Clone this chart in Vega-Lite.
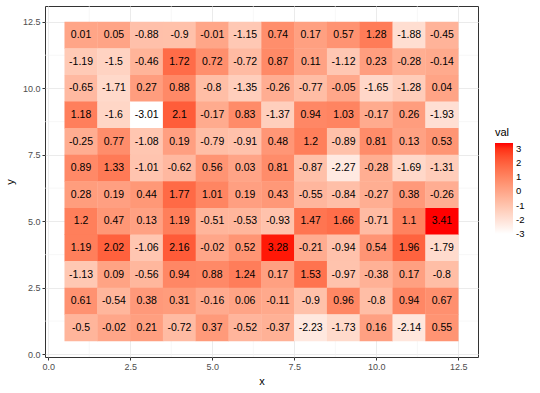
{
  "$schema": "https://vega.github.io/schema/vega-lite/v6.json",
  "width": 433,
  "height": 351,
  "autosize": "none",
  "padding": {"left": 45, "top": 6, "right": 62, "bottom": 36},
  "background": "white",
  "config": {
    "font": "Liberation Sans",
    "view": {"stroke": "#333333", "strokeWidth": 1},
    "axis": {
      "domain": false,
      "tickColor": "#333333",
      "tickSize": 3,
      "labelColor": "#4D4D4D",
      "labelFontSize": 9,
      "labelPadding": 2,
      "titleFontSize": 11,
      "titleFontWeight": "normal",
      "titleColor": "#000000",
      "gridColor": "#EBEBEB",
      "gridWidth": 1
    }
  },
  "datasets": {
    "minor": [{"v": 1.25}, {"v": 3.75}, {"v": 6.25}, {"v": 8.75}, {"v": 11.25}],
    "tiles": [
      {"x": 1, "y": 12, "val": 0.01}, {"x": 2, "y": 12, "val": 0.05}, {"x": 3, "y": 12, "val": -0.88}, {"x": 4, "y": 12, "val": -0.9}, {"x": 5, "y": 12, "val": -0.01}, {"x": 6, "y": 12, "val": -1.15}, {"x": 7, "y": 12, "val": 0.74}, {"x": 8, "y": 12, "val": 0.17}, {"x": 9, "y": 12, "val": 0.57}, {"x": 10, "y": 12, "val": 1.28}, {"x": 11, "y": 12, "val": -1.88}, {"x": 12, "y": 12, "val": -0.45},
      {"x": 1, "y": 11, "val": -1.19}, {"x": 2, "y": 11, "val": -1.5}, {"x": 3, "y": 11, "val": -0.46}, {"x": 4, "y": 11, "val": 1.72}, {"x": 5, "y": 11, "val": 0.72}, {"x": 6, "y": 11, "val": -0.72}, {"x": 7, "y": 11, "val": 0.87}, {"x": 8, "y": 11, "val": 0.11}, {"x": 9, "y": 11, "val": -1.12}, {"x": 10, "y": 11, "val": 0.23}, {"x": 11, "y": 11, "val": -0.28}, {"x": 12, "y": 11, "val": -0.14},
      {"x": 1, "y": 10, "val": -0.65}, {"x": 2, "y": 10, "val": -1.71}, {"x": 3, "y": 10, "val": 0.27}, {"x": 4, "y": 10, "val": 0.88}, {"x": 5, "y": 10, "val": -0.8}, {"x": 6, "y": 10, "val": -1.35}, {"x": 7, "y": 10, "val": -0.26}, {"x": 8, "y": 10, "val": -0.77}, {"x": 9, "y": 10, "val": -0.05}, {"x": 10, "y": 10, "val": -1.65}, {"x": 11, "y": 10, "val": -1.28}, {"x": 12, "y": 10, "val": 0.04},
      {"x": 1, "y": 9, "val": 1.18}, {"x": 2, "y": 9, "val": -1.6}, {"x": 3, "y": 9, "val": -3.01}, {"x": 4, "y": 9, "val": 2.1}, {"x": 5, "y": 9, "val": -0.17}, {"x": 6, "y": 9, "val": 0.83}, {"x": 7, "y": 9, "val": -1.37}, {"x": 8, "y": 9, "val": 0.94}, {"x": 9, "y": 9, "val": 1.03}, {"x": 10, "y": 9, "val": -0.17}, {"x": 11, "y": 9, "val": 0.26}, {"x": 12, "y": 9, "val": -1.93},
      {"x": 1, "y": 8, "val": -0.25}, {"x": 2, "y": 8, "val": 0.77}, {"x": 3, "y": 8, "val": -1.08}, {"x": 4, "y": 8, "val": 0.19}, {"x": 5, "y": 8, "val": -0.79}, {"x": 6, "y": 8, "val": -0.91}, {"x": 7, "y": 8, "val": 0.48}, {"x": 8, "y": 8, "val": 1.2}, {"x": 9, "y": 8, "val": -0.89}, {"x": 10, "y": 8, "val": 0.81}, {"x": 11, "y": 8, "val": 0.13}, {"x": 12, "y": 8, "val": 0.53},
      {"x": 1, "y": 7, "val": 0.89}, {"x": 2, "y": 7, "val": 1.33}, {"x": 3, "y": 7, "val": -1.01}, {"x": 4, "y": 7, "val": -0.62}, {"x": 5, "y": 7, "val": 0.56}, {"x": 6, "y": 7, "val": 0.03}, {"x": 7, "y": 7, "val": 0.81}, {"x": 8, "y": 7, "val": -0.87}, {"x": 9, "y": 7, "val": -2.27}, {"x": 10, "y": 7, "val": -0.28}, {"x": 11, "y": 7, "val": -1.69}, {"x": 12, "y": 7, "val": -1.31},
      {"x": 1, "y": 6, "val": 0.28}, {"x": 2, "y": 6, "val": 0.19}, {"x": 3, "y": 6, "val": 0.44}, {"x": 4, "y": 6, "val": 1.77}, {"x": 5, "y": 6, "val": 1.01}, {"x": 6, "y": 6, "val": 0.19}, {"x": 7, "y": 6, "val": 0.43}, {"x": 8, "y": 6, "val": -0.55}, {"x": 9, "y": 6, "val": -0.84}, {"x": 10, "y": 6, "val": -0.27}, {"x": 11, "y": 6, "val": 0.38}, {"x": 12, "y": 6, "val": -0.26},
      {"x": 1, "y": 5, "val": 1.2}, {"x": 2, "y": 5, "val": 0.47}, {"x": 3, "y": 5, "val": 0.13}, {"x": 4, "y": 5, "val": 1.19}, {"x": 5, "y": 5, "val": -0.51}, {"x": 6, "y": 5, "val": -0.53}, {"x": 7, "y": 5, "val": -0.93}, {"x": 8, "y": 5, "val": 1.47}, {"x": 9, "y": 5, "val": 1.66}, {"x": 10, "y": 5, "val": -0.71}, {"x": 11, "y": 5, "val": 1.1}, {"x": 12, "y": 5, "val": 3.41},
      {"x": 1, "y": 4, "val": 1.19}, {"x": 2, "y": 4, "val": 2.02}, {"x": 3, "y": 4, "val": -1.06}, {"x": 4, "y": 4, "val": 2.16}, {"x": 5, "y": 4, "val": -0.02}, {"x": 6, "y": 4, "val": 0.52}, {"x": 7, "y": 4, "val": 3.28}, {"x": 8, "y": 4, "val": -0.21}, {"x": 9, "y": 4, "val": -0.94}, {"x": 10, "y": 4, "val": 0.54}, {"x": 11, "y": 4, "val": 1.96}, {"x": 12, "y": 4, "val": -1.79},
      {"x": 1, "y": 3, "val": -1.13}, {"x": 2, "y": 3, "val": 0.09}, {"x": 3, "y": 3, "val": -0.56}, {"x": 4, "y": 3, "val": 0.94}, {"x": 5, "y": 3, "val": 0.88}, {"x": 6, "y": 3, "val": 1.24}, {"x": 7, "y": 3, "val": 0.17}, {"x": 8, "y": 3, "val": 1.53}, {"x": 9, "y": 3, "val": -0.97}, {"x": 10, "y": 3, "val": -0.38}, {"x": 11, "y": 3, "val": 0.17}, {"x": 12, "y": 3, "val": -0.8},
      {"x": 1, "y": 2, "val": 0.61}, {"x": 2, "y": 2, "val": -0.54}, {"x": 3, "y": 2, "val": 0.38}, {"x": 4, "y": 2, "val": 0.31}, {"x": 5, "y": 2, "val": -0.16}, {"x": 6, "y": 2, "val": 0.06}, {"x": 7, "y": 2, "val": -0.11}, {"x": 8, "y": 2, "val": -0.9}, {"x": 9, "y": 2, "val": 0.96}, {"x": 10, "y": 2, "val": -0.8}, {"x": 11, "y": 2, "val": 0.94}, {"x": 12, "y": 2, "val": 0.67},
      {"x": 1, "y": 1, "val": -0.5}, {"x": 2, "y": 1, "val": -0.02}, {"x": 3, "y": 1, "val": 0.21}, {"x": 4, "y": 1, "val": -0.72}, {"x": 5, "y": 1, "val": 0.37}, {"x": 6, "y": 1, "val": -0.52}, {"x": 7, "y": 1, "val": -0.37}, {"x": 8, "y": 1, "val": -2.23}, {"x": 9, "y": 1, "val": -1.73}, {"x": 10, "y": 1, "val": 0.16}, {"x": 11, "y": 1, "val": -2.14}, {"x": 12, "y": 1, "val": 0.55}
    ]
  },
  "layer": [
    {
      "data": {"name": "minor"},
      "mark": {"type": "rule", "color": "#F2F2F2", "strokeWidth": 0.6},
      "encoding": {
        "x": {"field": "v", "type": "quantitative", "scale": {"domain": [-0.1, 13.1], "nice": false, "zero": false},
          "axis": {"values": [0, 2.5, 5, 7.5, 10, 12.5], "format": ".1f", "title": "x", "titlePadding": 4, "grid": true}}
      }
    },
    {
      "data": {"name": "minor"},
      "mark": {"type": "rule", "color": "#F2F2F2", "strokeWidth": 0.6},
      "encoding": {
        "y": {"field": "v", "type": "quantitative", "scale": {"domain": [-0.1, 13.1], "nice": false, "zero": false},
          "axis": {"values": [0, 2.5, 5, 7.5, 10, 12.5], "format": ".1f", "title": "y", "titlePadding": 7, "grid": true}}
      }
    },
    {
      "data": {"name": "tiles"},
      "mark": {"type": "rect", "width": 33.2, "height": 27},
      "encoding": {
        "x": {
          "field": "x", "type": "quantitative",
          "scale": {"domain": [-0.1, 13.1], "nice": false, "zero": false},
          "axis": {"values": [0, 2.5, 5, 7.5, 10, 12.5], "format": ".1f", "title": "x", "titlePadding": 4, "grid": true}
        },
        "y": {
          "field": "y", "type": "quantitative",
          "scale": {"domain": [-0.1, 13.1], "nice": false, "zero": false},
          "axis": {"values": [0, 2.5, 5, 7.5, 10, 12.5], "format": ".1f", "title": "y", "titlePadding": 7, "grid": true}
        },
        "color": {
          "field": "val", "type": "quantitative",
          "scale": {"range": ["#FFFFFF", "#FF0000"], "interpolate": "lab", "nice": false, "zero": false},
          "legend": {
            "title": "val",
            "orient": "none",
            "legendX": 450,
            "legendY": 121,
            "values": [-3, -2, -1, 0, 1, 2, 3],
            "labelExpr": "replace(datum.label, '\u2212', '-')",
            "gradientLength": 91,
            "gradientThickness": 18,
            "gradientStrokeWidth": 0,
            "labelFontSize": 9.5,
            "labelColor": "#000000",
            "labelOffset": 3,
            "titleFontSize": 11,
            "titleFontWeight": "normal",
            "titleColor": "#000000",
            "titlePadding": 5
          }
        }
      }
    },
    {
      "data": {"name": "tiles"},
      "mark": {"type": "text", "fontSize": 10.5, "color": "#000000"},
      "encoding": {
        "x": {"field": "x", "type": "quantitative"},
        "y": {"field": "y", "type": "quantitative"},
        "text": {"field": "val", "type": "nominal"}
      }
    }
  ]
}
